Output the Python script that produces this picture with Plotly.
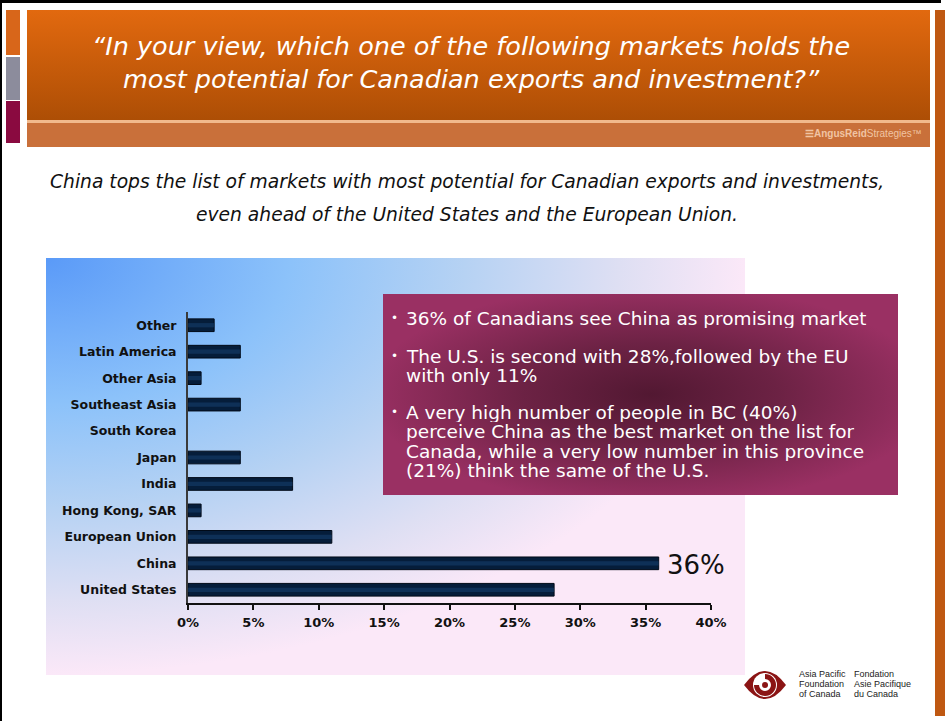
import base64
import plotly.graph_objects as go

# ---------------- data ----------------
categories = ["United States", "China", "European Union", "Hong Kong, SAR", "India",
              "Japan", "South Korea", "Southeast Asia", "Other Asia", "Latin America", "Other"]
values = [28, 36, 11, 1, 8, 4, 0, 4, 1, 4, 2]
x_tick_vals = [0, 5, 10, 15, 20, 25, 30, 35, 40]
x_tick_text = ["0%", "5%", "10%", "15%", "20%", "25%", "30%", "35%", "40%"]
highlight_category = "China"
highlight_label = "36%"

title_lines = ["\u201cIn your view, which one of the following markets holds the",
               "most potential for Canadian exports and investment?\u201d"]
subtitle_lines = ["China tops the list of markets with most potential for Canadian exports and investments,",
                  "even ahead of the United States and the European Union."]
box_lines = [
    ("\u2022", "36% of Canadians see China as promising market"),
    ("\u2022", "The U.S. is second with 28%,followed by the EU"),
    ("", "with only 11%"),
    ("\u2022", "A very high number of people in BC (40%)"),
    ("", "perceive China as the best market on the list for"),
    ("", "Canada, while a very low number in this province"),
    ("", "(21%) think the same of the U.S."),
]

W, H = 945, 721


def px(x):
    return x / W


def py(y):
    return 1 - y / H


def svg_uri(svg):
    return "data:image/svg+xml;base64," + base64.b64encode(svg.encode()).decode()


panel_svg = (
    "<svg xmlns='http://www.w3.org/2000/svg' width='700' height='417' viewBox='0 0 700 417' preserveAspectRatio='none'>"
    "<defs><radialGradient id='g' cx='0' cy='0' r='1' gradientUnits='objectBoundingBox'>"
    "<stop offset='0' stop-color='#5a9af8'/><stop offset='0.35' stop-color='#8cc2fa'/>"
    "<stop offset='0.6' stop-color='#b6d2f3'/><stop offset='0.82' stop-color='#dedff3'/>"
    "<stop offset='1' stop-color='#fbe8f8'/></radialGradient></defs>"
    "<rect width='700' height='417' fill='url(#g)'/></svg>"
)
box_svg = (
    "<svg xmlns='http://www.w3.org/2000/svg' width='515' height='201' viewBox='0 0 515 201' preserveAspectRatio='none'>"
    "<defs><radialGradient id='b' cx='0.52' cy='0.5' r='0.55' gradientUnits='objectBoundingBox'>"
    "<stop offset='0' stop-color='#521832'/><stop offset='0.45' stop-color='#6c2244'/>"
    "<stop offset='1' stop-color='#9a3063'/></radialGradient></defs>"
    "<rect width='515' height='201' fill='url(#b)'/></svg>"
)
header_svg = (
    "<svg xmlns='http://www.w3.org/2000/svg' width='903' height='110' viewBox='0 0 903 110' preserveAspectRatio='none'>"
    "<defs><linearGradient id='h' x1='0' y1='0' x2='0' y2='1'>"
    "<stop offset='0' stop-color='#e2690f'/><stop offset='1' stop-color='#ad4e05'/></linearGradient></defs>"
    "<rect width='903' height='110' fill='url(#h)'/></svg>"
)
logo_svg = (
    "<svg xmlns='http://www.w3.org/2000/svg' width='44' height='40' viewBox='0 0 44 40'>"
    "<path d='M1,20 Q22,-8 43,20 Q22,48 1,20 Z' fill='#8b1414'/>"
    "<circle cx='22' cy='20' r='12' fill='#ffffff'/>"
    "<path d='M22,9 A11,11 0 1,1 11,20 L16,20 A6,6 0 1,0 22,14 Z' fill='#8b1414'/>"
    "<circle cx='22' cy='20' r='3' fill='#8b1414'/></svg>"
)

fig = go.Figure()
fig.add_trace(go.Bar(
    y=categories, x=values, orientation="h", width=0.48,
    marker=dict(color="#051d3a", line=dict(color="#000a18", width=[1 if v > 0 else 0 for v in values])),
    hoverinfo="x+y", showlegend=False,
))
fig.add_trace(go.Bar(
    y=categories, x=values, orientation="h", width=0.16,
    marker=dict(color="#1a4a7c", opacity=0.45, line=dict(width=0)),
    hoverinfo="skip", showlegend=False,
))

images = [
    dict(source=svg_uri(panel_svg), xref="paper", yref="paper", x=px(46), y=py(258),
         sizex=px(745) - px(46), sizey=py(258) - py(675), xanchor="left", yanchor="top",
         sizing="stretch", layer="below"),
    dict(source=svg_uri(header_svg), xref="paper", yref="paper", x=px(27), y=py(10),
         sizex=px(930) - px(27), sizey=py(10) - py(120), xanchor="left", yanchor="top",
         sizing="stretch", layer="below"),
    dict(source=svg_uri(box_svg), xref="paper", yref="paper", x=px(383), y=py(294),
         sizex=px(898) - px(383), sizey=py(294) - py(495), xanchor="left", yanchor="top",
         sizing="stretch", layer="above"),
    dict(source=svg_uri(logo_svg), xref="paper", yref="paper", x=px(743), y=py(665),
         sizex=px(787) - px(743), sizey=py(665) - py(705), xanchor="left", yanchor="top",
         sizing="stretch", layer="above"),
]


def rect(x0, y0, x1, y1, color, layer="below"):
    return dict(type="rect", xref="paper", yref="paper", x0=px(x0), x1=px(x1), y0=py(y1), y1=py(y0),
                fillcolor=color, line=dict(width=0), layer=layer)


shapes = [
    # black frame
    rect(0, 0, 941, 3, "#000000"),
    rect(0, 0, 2, 721, "#000000"),
    # left strips
    rect(6, 10, 20, 55, "#d8661a"),
    rect(6, 57, 20, 100, "#8c8c9c"),
    rect(6, 101, 20, 143, "#8a0a40"),
    # header lower stripe
    rect(27, 120, 930, 147, "#c9703a"),
    rect(27, 120, 930, 123, "#f1b98c"),
    # right strip
    rect(935, 10, 945, 716, "#bf5812"),
]

annotations = []
annotations.append(dict(xref="paper", yref="paper", x=px(471), y=py(63), text="<br>".join(title_lines),
                        showarrow=False, xanchor="center", yanchor="middle", align="center",
                        font=dict(family="DejaVu Sans", size=25.5, color="#ffffff", style="italic")))
for i, line in enumerate(subtitle_lines):
    annotations.append(dict(xref="paper", yref="paper", x=px(467), y=py([181, 215][i]), text=line,
                            showarrow=False, xanchor="center", yanchor="middle",
                            font=dict(family="DejaVu Sans", size=18.7, color="#111111", style="italic")))
box_y = [318, 356, 375.5, 412, 432, 451, 470.5]
for (bul, txt), yy in zip(box_lines, box_y):
    if bul:
        annotations.append(dict(xref="paper", yref="paper", x=px(394), y=py(yy), text=bul,
                                showarrow=False, xanchor="center", yanchor="middle",
                                font=dict(family="DejaVu Sans", size=12, color="#ffffff")))
    annotations.append(dict(xref="paper", yref="paper", x=px(404), y=py(yy), text=txt,
                            showarrow=False, xanchor="left", yanchor="middle", height=19, valign="middle",
                            font=dict(family="DejaVu Sans", size=18.5, color="#ffffff")))
# value label for China
annotations.append(dict(x=values[categories.index(highlight_category)], y=highlight_category,
                        xref="x", yref="y", text=highlight_label, showarrow=False,
                        xanchor="left", yanchor="middle", xshift=6, yshift=-2,
                        font=dict(family="DejaVu Sans", size=26, color="#111111")))
# Angus Reid logo text
annotations.append(dict(xref="paper", yref="paper", x=px(924), y=py(133), xanchor="right", yanchor="middle",
                        text="<b>\u2630AngusReid</b>Strategies\u2122", showarrow=False,
                        font=dict(family="Liberation Sans", size=10, color="rgba(255,225,200,0.75)")))
# APF Canada text
for col_x, lines in [(797, ["Asia Pacific", "Foundation", "of Canada"]),
                     (852, ["Fondation", "Asie Pacifique", "du Canada"])]:
    for j, t in enumerate(lines):
        annotations.append(dict(xref="paper", yref="paper", x=px(col_x), y=py(674 + 10 * j), text=t,
                                showarrow=False, xanchor="left", yanchor="middle",
                                font=dict(family="Liberation Sans", size=9, color="#222222")))

fig.update_layout(
    width=W, height=H, margin=dict(l=0, r=0, t=0, b=0, autoexpand=False),
    paper_bgcolor="#ffffff", plot_bgcolor="rgba(0,0,0,0)",
    barmode="overlay", showlegend=False,
    images=images, shapes=shapes, annotations=annotations,
    xaxis=dict(domain=[px(188), px(711)], range=[0, 40], tickvals=x_tick_vals, ticktext=x_tick_text,
               showgrid=False, zeroline=False, showline=True, linecolor="#111111", linewidth=1.5,
               ticks="outside", ticklen=5, tickcolor="#111111", tickwidth=1.5,
               ticklabelstandoff=2, automargin=False, fixedrange=True,
               tickfont=dict(family="DejaVu Sans", size=13, color="#111111", weight="bold")),
    yaxis=dict(domain=[py(603), py(312)], type="category", categoryorder="array", categoryarray=categories,
               range=[-0.5, len(categories) - 0.5], showgrid=False, zeroline=False,
               showline=True, linecolor="#3a3a3a", linewidth=2, ticks="", ticklabelstandoff=7,
               automargin=False, fixedrange=True,
               tickfont=dict(family="DejaVu Sans", size=12.5, color="#111111", weight="bold")),
)

fig.write_html("out.html", config={"displayModeBar": False},
               post_script="document.body.style.margin='0';document.body.style.overflow='hidden';")
